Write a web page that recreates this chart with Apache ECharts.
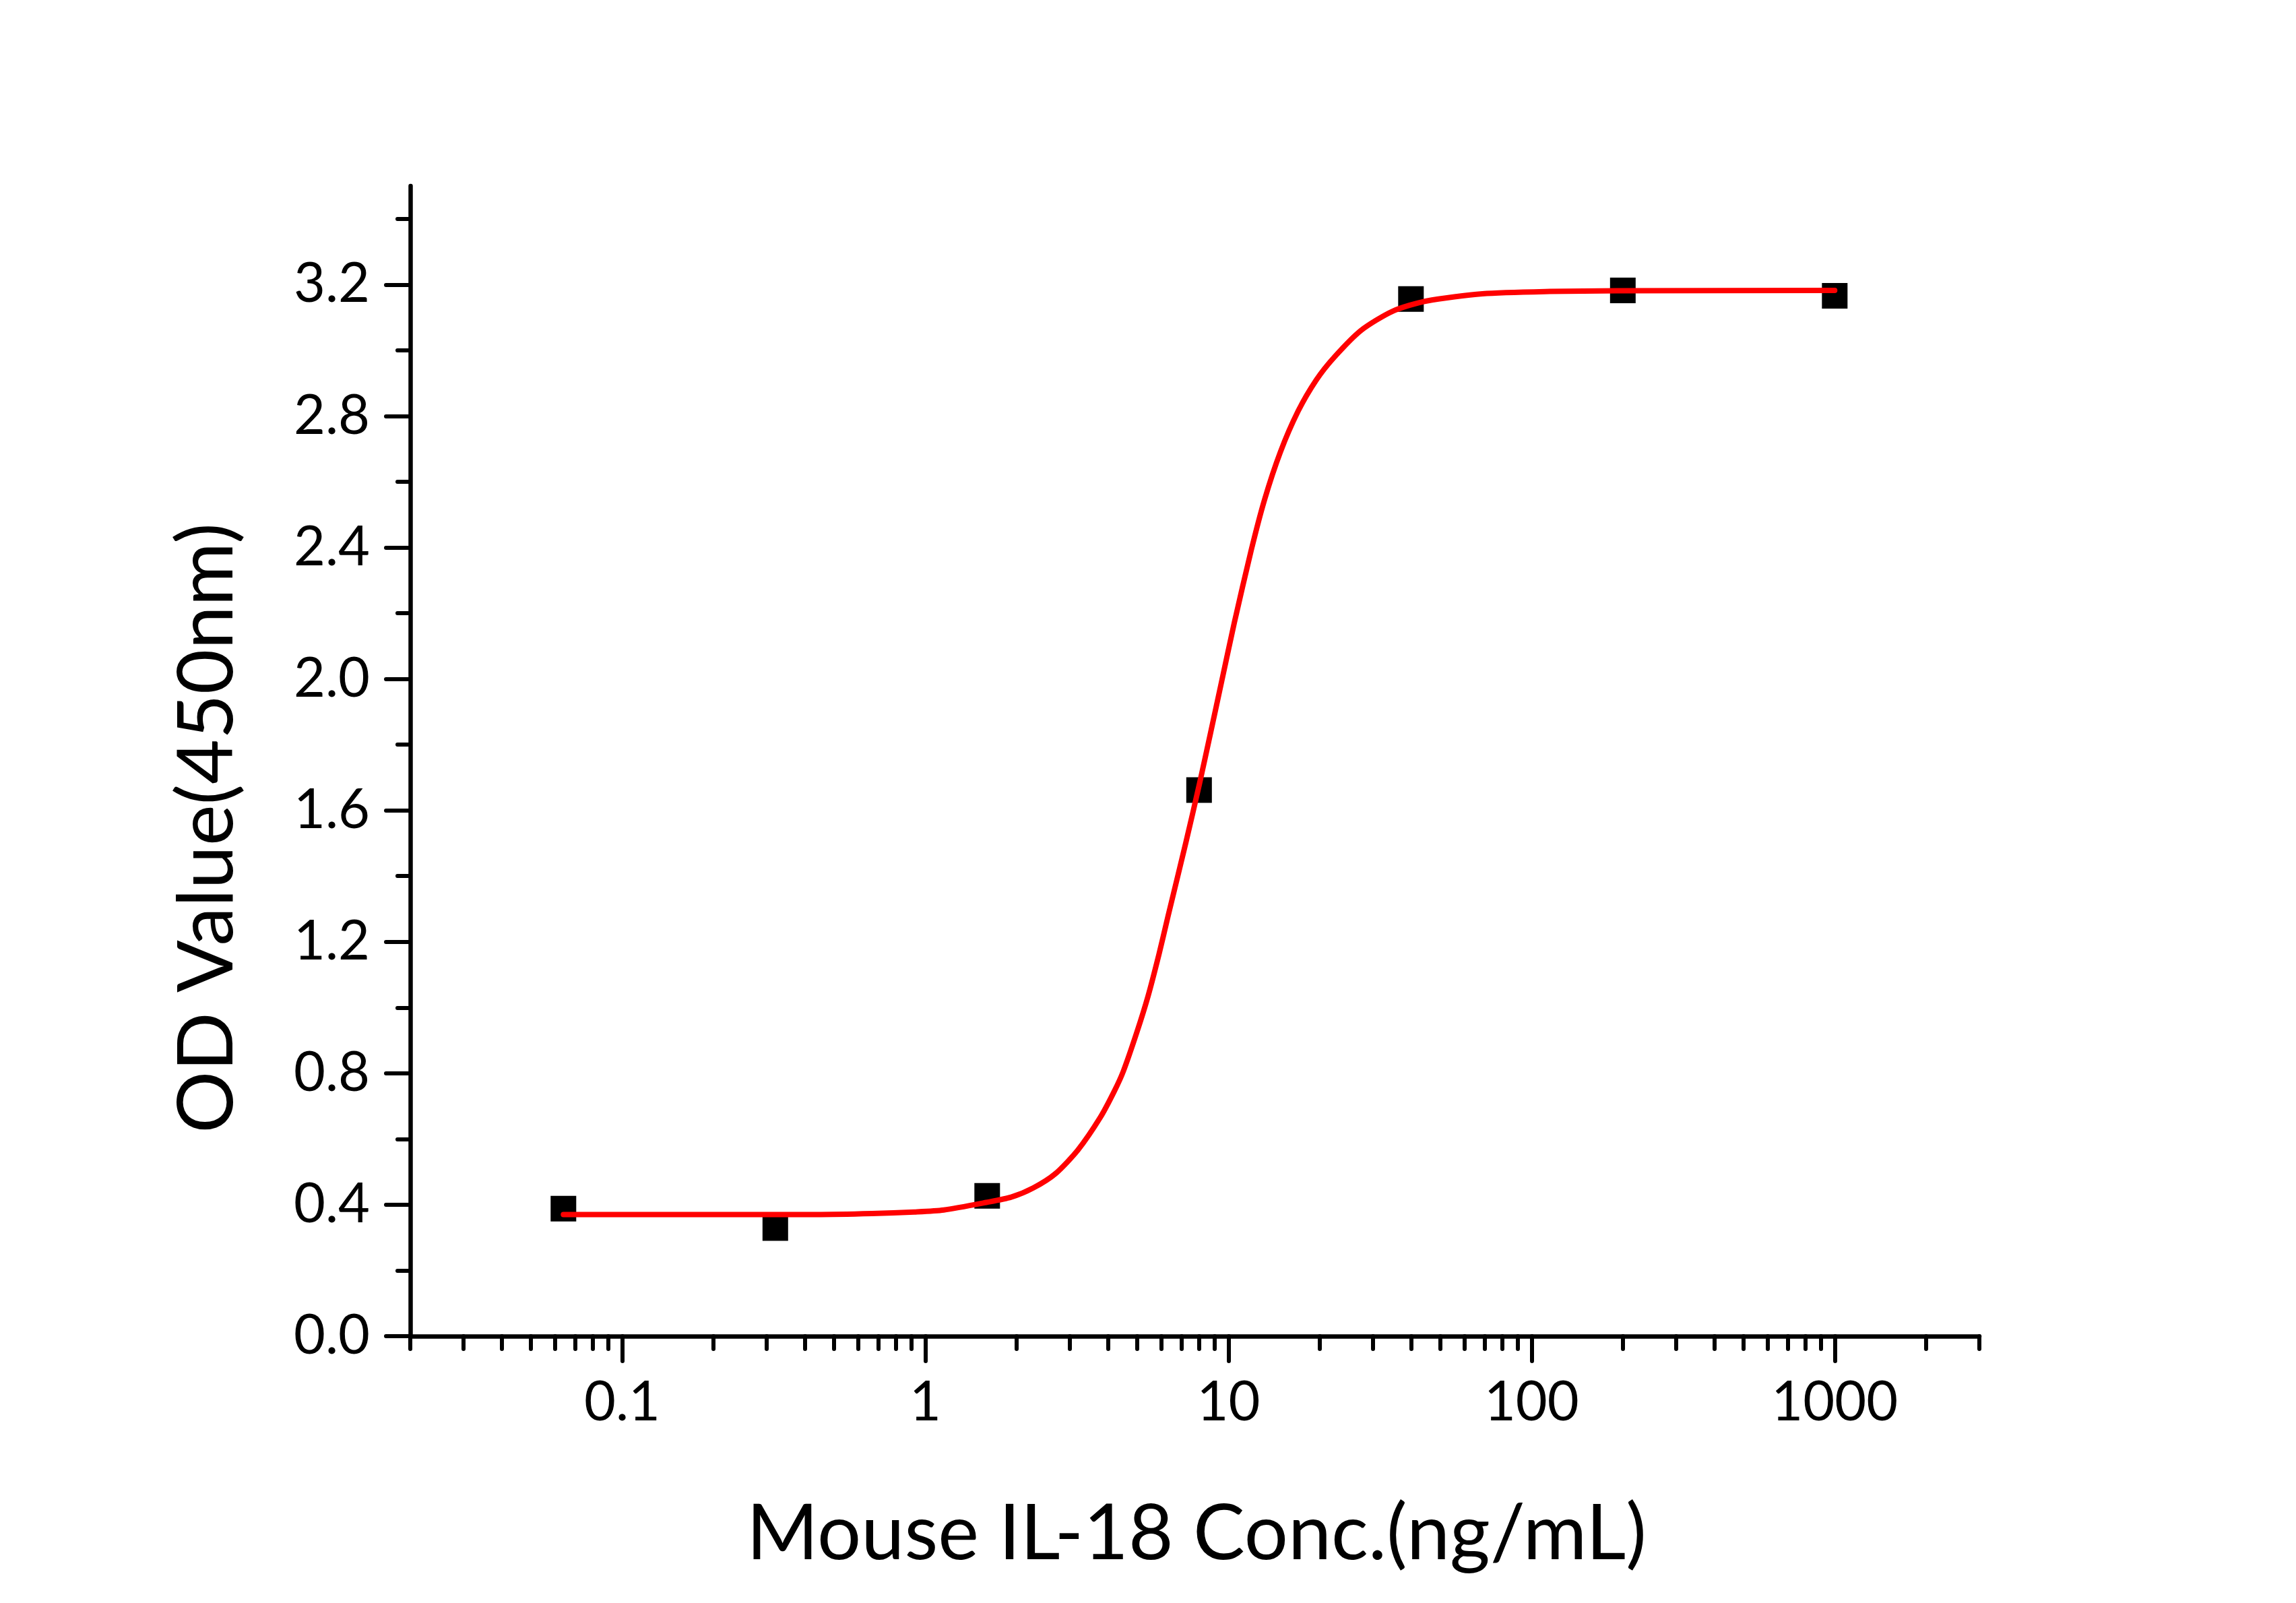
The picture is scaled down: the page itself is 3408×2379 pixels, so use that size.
<!DOCTYPE html>
<html>
<head>
<meta charset="utf-8">
<script src="https://cdn.jsdelivr.net/npm/echarts@6/dist/echarts.min.js"></script>
<style>
html,body{margin:0;padding:0;background:#fff;}
#c{width:3408px;height:2379px;}
</style>
</head>
<body>
<div id="c"></div>
<script>
// ---- data ----
const conc = [0.064, 0.32, 1.6, 8, 40, 200, 1000];
const od = [0.388, 0.329, 0.427, 1.662, 3.156, 3.182, 3.166];

const fitConc = [0.064, 0.2, 0.435, 0.667, 0.92, 1.15, 1.59, 1.92, 2.27, 2.69, 3.19, 3.78, 4.2, 4.5, 4.98, 5.42, 5.9, 6.32, 7.24, 8.02, 8.75, 9.51, 10.45, 11.89, 13.15, 14.83, 16.98, 19.5, 22.34, 27.42, 34.83, 44.98, 68.87, 114.8, 191.4, 1000];
const fitOD = [0.370, 0.370, 0.370, 0.373, 0.378, 0.384, 0.407, 0.423, 0.451, 0.495, 0.567, 0.666, 0.745, 0.806, 0.923, 1.032, 1.162, 1.278, 1.503, 1.680, 1.840, 1.995, 2.170, 2.392, 2.545, 2.690, 2.815, 2.910, 2.979, 3.061, 3.119, 3.150, 3.172, 3.179, 3.181, 3.182];

const xMin = 0.02, xMax = 3000;
const xTickValues = [0.1, 1, 10, 100, 1000];
const xTickLabels = ['0.1', '1', '10', '100', '1000'];
const xMinorTickValues = [0.02,0.03,0.04,0.05,0.06,0.07,0.08,0.09,
  0.2,0.3,0.4,0.5,0.6,0.7,0.8,0.9,
  2,3,4,5,6,7,8,9,
  20,30,40,50,60,70,80,90,
  200,300,400,500,600,700,800,900,
  2000,3000];

const yMin = 0, yMax = 3.5;
const yTickValues = [0, 0.4, 0.8, 1.2, 1.6, 2.0, 2.4, 2.8, 3.2];
const yTickLabels = ['0.0', '0.4', '0.8', '1.2', '1.6', '2.0', '2.4', '2.8', '3.2'];
const yMinorTickValues = [0.2, 0.6, 1.0, 1.4, 1.8, 2.2, 2.6, 3.0, 3.4];

const xTitle = 'Mouse IL-18 Conc.(ng/mL)';
const yTitle = 'OD Value(450nm)';

// ---- build ----
const L = v => Math.log10(v);
const FONT = 'Lato';
const axisColor = '#000';

function xLabel(v) {
  for (let i = 0; i < xTickValues.length; i++) {
    if (Math.abs(L(xTickValues[i]) - v) < 1e-6) return xTickLabels[i];
  }
  return '';
}
function yLabel(v) {
  for (let i = 0; i < yTickValues.length; i++) {
    if (Math.abs(yTickValues[i] - v) < 1e-6) return yTickLabels[i];
  }
  return '';
}

const chart = echarts.init(document.getElementById('c'), null, {renderer: 'canvas'});

const baseX = {
  type: 'value', min: L(xMin), max: L(xMax), position: 'bottom', gridIndex: 0,
  splitLine: {show: false}, minorTick: {show: false}, minorSplitLine: {show: false}
};
const baseY = {
  type: 'value', min: yMin, max: yMax, position: 'left', gridIndex: 0,
  splitLine: {show: false}, minorTick: {show: false}, minorSplitLine: {show: false}
};

const option = {
  backgroundColor: '#fff',
  animation: false,
  grid: {left: 609, right: 470, top: 276, bottom: 396, containLabel: false},
  xAxis: [
    Object.assign({}, baseX, {
      axisLine: {show: true, onZero: false, lineStyle: {color: axisColor, width: 6.5, cap: 'round'}},
      axisTick: {show: true, inside: false, length: 37, customValues: xTickValues.map(L),
        lineStyle: {color: axisColor, width: 6, cap: 'round'}},
      axisLabel: {show: true, margin: 58, customValues: xTickValues.map(L), formatter: xLabel,
        color: '#000', fontFamily: FONT, fontSize: 81}
    }),
    Object.assign({}, baseX, {
      axisLine: {show: false, onZero: false},
      axisTick: {show: true, inside: false, length: 19, customValues: xMinorTickValues.map(L),
        lineStyle: {color: axisColor, width: 6, cap: 'round'}},
      axisLabel: {show: false}
    })
  ],
  yAxis: [
    Object.assign({}, baseY, {
      axisLine: {show: true, onZero: false, lineStyle: {color: axisColor, width: 6.5, cap: 'round'}},
      axisTick: {show: true, inside: false, length: 36, customValues: yTickValues,
        lineStyle: {color: axisColor, width: 6, cap: 'round'}},
      axisLabel: {show: true, margin: 60, customValues: yTickValues, formatter: yLabel,
        color: '#000', fontFamily: FONT, fontSize: 81}
    }),
    Object.assign({}, baseY, {
      axisLine: {show: false, onZero: false},
      axisTick: {show: true, inside: false, length: 19, customValues: yMinorTickValues,
        lineStyle: {color: axisColor, width: 6, cap: 'round'}},
      axisLabel: {show: false}
    })
  ],
  graphic: [
    {type: 'text', x: 1776, y: 2277, z: 10,
      style: {text: xTitle, fill: '#000', fontFamily: FONT, fontSize: 115, align: 'center', verticalAlign: 'middle'}},
    {type: 'text', x: 308, y: 1229, rotation: Math.PI / 2, z: 10,
      style: {text: yTitle, fill: '#000', fontFamily: FONT, fontSize: 115, align: 'center', verticalAlign: 'middle'}}
  ],
  series: [
    {
      type: 'scatter', xAxisIndex: 0, yAxisIndex: 0, z: 2,
      symbol: 'rect', symbolSize: 38,
      itemStyle: {color: '#000', opacity: 1},
      data: conc.map((c, i) => [L(c), od[i]])
    },
    {
      type: 'line', xAxisIndex: 0, yAxisIndex: 0, z: 3,
      showSymbol: false, symbol: 'none',
      smooth: 0.25,
      lineStyle: {color: '#ff0000', width: 8, cap: 'round', join: 'round'},
      data: fitConc.map((c, i) => [L(c), fitOD[i]])
    }
  ]
};
chart.setOption(option);
</script>
</body>
</html>
